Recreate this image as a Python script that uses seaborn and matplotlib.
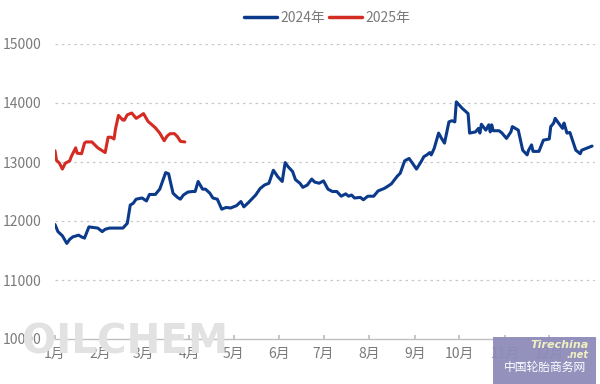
import matplotlib
matplotlib.use("Agg")
import matplotlib.pyplot as plt
import seaborn as sns
import pandas as pd
from matplotlib.patches import Rectangle
from matplotlib.lines import Line2D

# ---- data (day of year, price) ----
days_2024 = [0, 2, 5, 8, 10, 12, 16, 18, 20, 23, 26, 29, 32, 34, 37, 46, 49, 51, 53, 55,
             59, 62, 64, 68, 71, 75, 77, 80, 83, 85, 87, 90, 93, 95, 97, 100, 102, 105, 107, 110,
             113, 116, 119, 123, 126, 128, 131, 136, 139, 142, 145, 148, 151, 154, 156, 158, 161, 163, 166, 168,
             171, 174, 176, 179, 182, 185, 188, 191, 194, 197, 199, 201, 203, 207, 209, 212, 216, 219, 223, 225,
             228, 232, 234, 237, 240, 242, 245, 248, 250, 252, 254, 255, 257, 260, 262, 264, 267, 269, 271, 272,
             276, 280, 281, 285, 287, 288, 289, 292, 294, 295, 296, 297, 301, 303, 306, 309, 310, 314, 317, 320,
             321, 323, 324, 328, 331, 335, 336, 338, 339, 341, 344, 345, 347, 349, 353, 356, 357, 359, 362, 364]
price_2024 = [11940, 11820, 11750, 11620, 11690, 11730, 11760, 11730, 11710, 11900, 11890, 11880, 11820, 11860, 11880, 11880, 11960, 12270, 12300, 12370,
              12390, 12340, 12450, 12450, 12540, 12820, 12800, 12470, 12400, 12370, 12440, 12490, 12500, 12500, 12670, 12540, 12540, 12470, 12390, 12370,
              12200, 12230, 12220, 12260, 12330, 12240, 12310, 12440, 12550, 12610, 12640, 12860, 12750, 12670, 12990, 12920, 12840, 12700, 12640, 12570,
              12610, 12710, 12660, 12640, 12680, 12540, 12500, 12500, 12420, 12460, 12420, 12440, 12390, 12400, 12360, 12420, 12420, 12510, 12550, 12580,
              12630, 12760, 12810, 13020, 13060, 12990, 12880, 13000, 13090, 13120, 13160, 13120, 13230, 13490, 13400, 13320, 13680, 13700, 13680, 14020,
              13910, 13820, 13490, 13510, 13570, 13490, 13640, 13540, 13630, 13510, 13630, 13530, 13530, 13490, 13400, 13510, 13600, 13540, 13200, 13120,
              13200, 13290, 13180, 13180, 13370, 13390, 13600, 13660, 13740, 13670, 13570, 13660, 13490, 13500, 13200, 13140, 13200, 13220, 13250, 13270]

days_2025 = [0, 1, 3, 5, 7, 10, 11, 14, 15, 18, 20, 21, 25, 29, 34, 36, 38, 40, 41, 43,
             46, 47, 49, 52, 55, 57, 60, 63, 68, 71, 74, 76, 78, 81, 83, 85, 88]
price_2025 = [13190, 13030, 12980, 12880, 12980, 13020, 13090, 13240, 13150, 13140, 13320, 13340, 13340, 13240, 13160, 13420, 13420, 13390, 13560, 13790,
              13710, 13710, 13800, 13830, 13740, 13770, 13820, 13690, 13580, 13490, 13360, 13440, 13480, 13480, 13430, 13350, 13340]

series_names = ["2024年", "2025年"]
series_colors = ["#0c3a8a", "#d42b22"]
month_days = [0, 31, 60, 91, 121, 152, 182, 213, 244, 274, 305, 335]
month_labels = ["1月", "2月", "3月", "4月", "5月", "6月", "7月", "8月", "9月", "10月", "11月", "12月"]
y_ticks = [10000, 11000, 12000, 13000, 14000, 15000]

df = pd.concat([
    pd.DataFrame({"day": days_2024, "price": price_2024, "year": series_names[0]}),
    pd.DataFrame({"day": days_2025, "price": price_2025, "year": series_names[1]}),
], ignore_index=True)

sns.set_theme(style="white")
plt.rcParams["font.family"] = ["Noto Sans CJK SC", "DejaVu Sans"]

fig = plt.figure(figsize=(6, 3.84), dpi=100)
ax = fig.add_axes([55 / 600, 1 - 339 / 384, 540 / 600, (339 - 44) / 384])

# watermark text behind plot
fig.text(22 / 600, 1 - 362 / 384, "OILCHEM", fontsize=29, color="#e2e2e2",
         fontweight="bold", family=["DejaVu Sans"], zorder=0, ha="left", va="bottom")

sns.lineplot(data=df, x="day", y="price", hue="year", palette=dict(zip(series_names, series_colors)),
             linewidth=2.2, ax=ax, legend=False, estimator=None, sort=False)

ax.set_xlim(0, 366)
ax.set_ylim(10000, 15000)
ax.set_xticks(month_days)
ax.set_xticklabels(month_labels)
ax.set_yticks(y_ticks)
ax.set_yticklabels([str(v) for v in y_ticks])
ax.set_xlabel("")
ax.set_ylabel("")
ax.patch.set_alpha(0)

for v in y_ticks[1:]:
    ax.axhline(v, color="#c8c8c8", linewidth=0.9, linestyle=(0, (2, 3)), zorder=0)

for s in ["top", "right", "left"]:
    ax.spines[s].set_visible(False)
ax.spines["bottom"].set_color("#c0c0c0")
ax.spines["bottom"].set_linewidth(1.0)

ax.tick_params(axis="x", direction="in", length=3, color="#c0c0c0", labelsize=10,
               labelcolor="#7a7a7a", pad=6, bottom=True)
ax.tick_params(axis="y", length=0, labelsize=10, labelcolor="#7a7a7a", pad=10)

handles = [Line2D([0], [0], color=c, linewidth=2.5) for c in series_colors]
fig.legend(handles, series_names, loc="center", bbox_to_anchor=(327 / 600, 1 - 18 / 384),
           ncol=2, frameon=False, fontsize=10, handlelength=2.4, handletextpad=0.2,
           columnspacing=0.3, labelcolor="#7a7a7a")

# Tirechina logo box (watermark)
fig.patches.append(Rectangle((493 / 600, 0), 103 / 600, 47 / 384, transform=fig.transFigure,
                             facecolor="#8e8cba", edgecolor="none", alpha=0.95, zorder=5))
fig.text(560 / 600, 1 - 345 / 384, "Tirechina", fontsize=8, color="#f0f0c0", style="italic",
         fontweight="bold", ha="center", va="center", zorder=6, family=["DejaVu Sans"])
fig.text(578 / 600, 1 - 355 / 384, ".net", fontsize=7, color="#f0f0c0", style="italic",
         fontweight="bold", ha="center", va="center", zorder=6, family=["DejaVu Sans"])
fig.text(545 / 600, 1 - 367 / 384, "中国轮胎商务网", fontsize=8.5, color="white",
         ha="center", va="center", zorder=6)

fig.savefig("out.png", dpi=100, facecolor="white")
